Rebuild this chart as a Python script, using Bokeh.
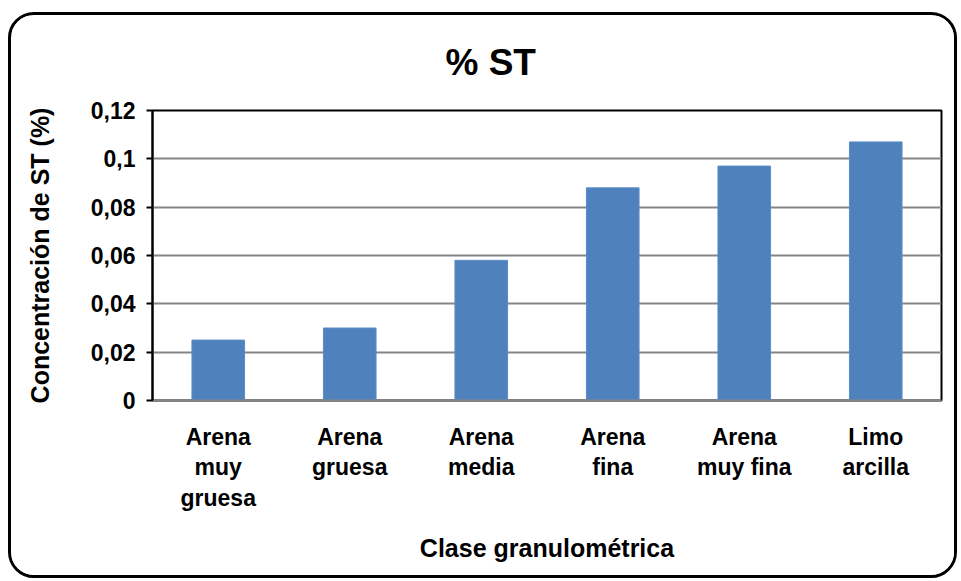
from bokeh.plotting import figure
from bokeh.models import Range1d, FixedTicker, CustomJSTickFormatter, ColumnDataSource
from bokeh.embed import file_html
from bokeh.resources import INLINE

title_text = "% ST"
categories = ["Arena\nmuy\ngruesa", "Arena\ngruesa", "Arena\nmedia", "Arena\nfina", "Arena\nmuy fina", "Limo\narcilla"]
values = [0.025, 0.030, 0.058, 0.088, 0.097, 0.107]
y_ticks = [0, 0.02, 0.04, 0.06, 0.08, 0.10, 0.12]
y_tick_labels = ["0", "0,02", "0,04", "0,06", "0,08", "0,1", "0,12"]

FONT = "Liberation Sans"

p = figure(x_range=categories, y_range=Range1d(0, 0.12), width=949, height=566,
           output_backend="svg", toolbar_location=None, title=title_text,
           min_border_left=141, min_border_right=19, min_border_top=95, min_border_bottom=181)

src = ColumnDataSource(data=dict(cat=categories, val=values))
p.vbar(x="cat", top="val", width=0.4, source=src, fill_color="#4F81BD", line_color="#5B8CC6", line_width=1)

p.title.align = "left"
p.title.offset = 293
p.title.vertical_align = "top"
p.title.text_font = FONT
p.title.text_font_size = "37px"
p.title.text_font_style = "bold"
p.title.text_color = "black"
p.title.standoff = 51

p.yaxis.ticker = FixedTicker(ticks=y_ticks)
p.yaxis.formatter = CustomJSTickFormatter(args=dict(tvals=y_ticks, tlabels=y_tick_labels), code="""
const i = tvals.findIndex(t => Math.abs(t - tick) < 1e-9);
return i >= 0 ? tlabels[i] : String(tick);
""")

for ax in [p.xaxis[0], p.yaxis[0]]:
    ax.major_label_text_font = FONT
    ax.major_label_text_font_size = "23px"
    ax.major_label_text_font_style = "bold"
    ax.major_label_text_color = "black"
    ax.axis_label_text_font = FONT
    ax.axis_label_text_font_size = "25px"
    ax.axis_label_text_font_style = "bold"
    ax.axis_label_text_color = "black"
    ax.minor_tick_line_color = None

p.yaxis.axis_label = "Concentración de ST (%)"
p.yaxis.axis_line_color = "black"
p.yaxis.axis_line_width = 2
p.yaxis.major_tick_line_color = "black"
p.yaxis.major_tick_line_width = 2
p.yaxis.major_tick_out = 6
p.yaxis.major_tick_in = 0
p.yaxis.major_label_standoff = 11
p.yaxis.axis_label_standoff = 34

p.xaxis.axis_label = "Clase granulométrica"
p.xaxis.axis_line_color = "#868686"
p.xaxis.axis_line_width = 2
p.xaxis.major_tick_line_color = None
p.xaxis.major_label_standoff = 17
p.xaxis.major_label_text_line_height = 1.18
p.xaxis.axis_label_standoff = 20
p.xaxis.major_label_orientation = "horizontal"

p.xgrid.grid_line_color = None
p.ygrid.grid_line_color = "#868686"
p.ygrid.grid_line_width = 2

p.outline_line_color = "black"
p.outline_line_width = 2
p.background_fill_color = "white"
p.border_fill_color = "white"

p.styles = {"border": "3px solid black", "box-sizing": "border-box", "border-radius": "26px",
            "overflow": "hidden", "margin-left": "8px", "margin-top": "12px"}

open("out.html", "w").write(file_html(p, INLINE))
